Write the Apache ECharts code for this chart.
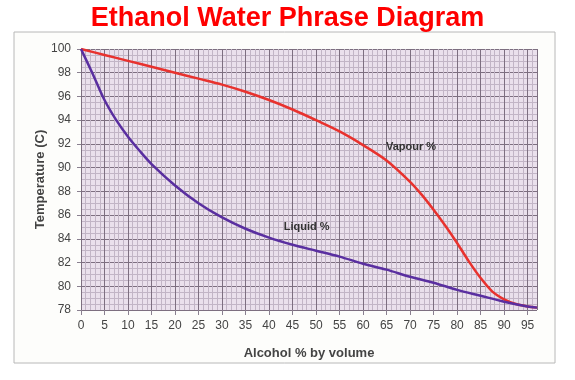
<!DOCTYPE html>
<html>
<head>
<meta charset="utf-8">
<script src="https://cdn.jsdelivr.net/npm/echarts@6/dist/echarts.min.js"></script>
<style>
html,body{margin:0;padding:0;background:#fff;}
#c{width:575px;height:380px;}
</style>
</head>
<body>
<div id="c"></div>
<script>
var title = 'Ethanol Water Phrase Diagram';
var xAxisName = 'Alcohol % by volume';
var yAxisName = 'Temperature (C)';

var vapourX = [0, 5, 10, 15, 20, 25, 30, 35, 40, 45, 50, 55, 60, 65, 70, 72.5, 75, 77.5, 80, 82.5, 85, 87.5, 90, 92.5, 95, 97];
var vapourT = [100, 99.5, 99.0, 98.5, 98.0, 97.5, 97.0, 96.4, 95.7, 94.9, 94.0, 93.05, 91.9, 90.6, 88.8, 87.7, 86.45, 85.1, 83.65, 82.1, 80.7, 79.55, 78.9, 78.5, 78.3, 78.2];

var liquidX = [0, 2.5, 5, 7.5, 10, 12.5, 15, 20, 25, 30, 35, 40, 45, 50, 55, 60, 65, 70, 75, 80, 85, 90, 95, 97];
var liquidT = [100, 97.9, 95.7, 94.0, 92.6, 91.4, 90.3, 88.5, 87.0, 85.8, 84.85, 84.1, 83.5, 83.0, 82.5, 81.9, 81.4, 80.8, 80.3, 79.7, 79.2, 78.7, 78.3, 78.2];

var vapourLabel = {text: 'Vapour %', x: 70.2, t: 91.75};
var liquidLabel = {text: 'Liquid %', x: 48, t: 85.0};

function pairs(xs, ys) { return xs.map(function (v, i) { return [v, ys[i]]; }); }

var chart = echarts.init(document.getElementById('c'), null, {renderer: 'canvas'});
var ff = 'Liberation Sans, Arial, sans-serif';
var labelFont = {fontFamily: ff, fontSize: 12, color: '#444'};

chart.setOption({
  backgroundColor: '#ffffff',
  animation: false,
  title: {
    text: title, left: 'center', top: 0,
    textStyle: {color: '#ff0000', fontSize: 27, fontWeight: 'bold', fontFamily: ff}
  },
  graphic: [{
    type: 'rect', shape: {x: 14, y: 32, width: 541, height: 331},
    style: {fill: '#fdfdfb', stroke: '#b8b8b8', lineWidth: 1}, z: -10
  }],
  grid: {left: 81, right: 38, top: 49, bottom: 70, show: true, backgroundColor: '#eae0ec', borderWidth: 0},
  xAxis: {
    type: 'value', min: 0, max: 97, interval: 5,
    name: xAxisName, nameLocation: 'middle', nameGap: 37,
    nameTextStyle: {fontFamily: ff, fontSize: 13, fontWeight: 'bold', color: '#444'},
    axisLine: {show: false},
    axisTick: {show: true, length: 5, lineStyle: {color: '#8a8090'}},
    axisLabel: Object.assign({showMaxLabel: false, margin: 10}, labelFont),
    splitLine: {show: true, lineStyle: {color: '#7d6f80', width: 1}},
    minorTick: {show: false, splitNumber: 5},
    minorSplitLine: {show: true, lineStyle: {color: '#c2b5c6', width: 1}}
  },
  yAxis: {
    type: 'value', min: 78, max: 100, interval: 2,
    name: yAxisName, nameLocation: 'middle', nameGap: 34, nameRotate: 90, nameMoveOverlap: false,
    nameTextStyle: {fontFamily: ff, fontSize: 13, fontWeight: 'bold', color: '#444'},
    axisLine: {show: false},
    axisTick: {show: true, length: 4, lineStyle: {color: '#8a8090'}},
    axisLabel: Object.assign({margin: 10}, labelFont),
    splitLine: {show: true, lineStyle: {color: '#7d6f80', width: 1}},
    minorTick: {show: false, splitNumber: 4},
    minorSplitLine: {show: true, lineStyle: {color: '#c2b5c6', width: 1}}
  },
  series: [{
    name: 'Vapour %', type: 'line', smooth: 0.3, symbol: 'none',
    data: pairs(vapourX, vapourT),
    lineStyle: {color: '#e8322e', width: 2.5},
    markPoint: {
      symbol: 'circle', symbolSize: 0,
      label: {show: true, position: 'inside', formatter: vapourLabel.text, fontFamily: ff, fontSize: 11, fontWeight: 'bold', color: '#333'},
      data: [{coord: [vapourLabel.x, vapourLabel.t]}]
    }
  }, {
    name: 'Liquid %', type: 'line', smooth: 0.3, symbol: 'none',
    data: pairs(liquidX, liquidT),
    lineStyle: {color: '#5a2fa0', width: 2.5},
    markPoint: {
      symbol: 'circle', symbolSize: 0,
      label: {show: true, position: 'inside', formatter: liquidLabel.text, fontFamily: ff, fontSize: 11, fontWeight: 'bold', color: '#333'},
      data: [{coord: [liquidLabel.x, liquidLabel.t]}]
    }
  }]
});
</script>
</body>
</html>
